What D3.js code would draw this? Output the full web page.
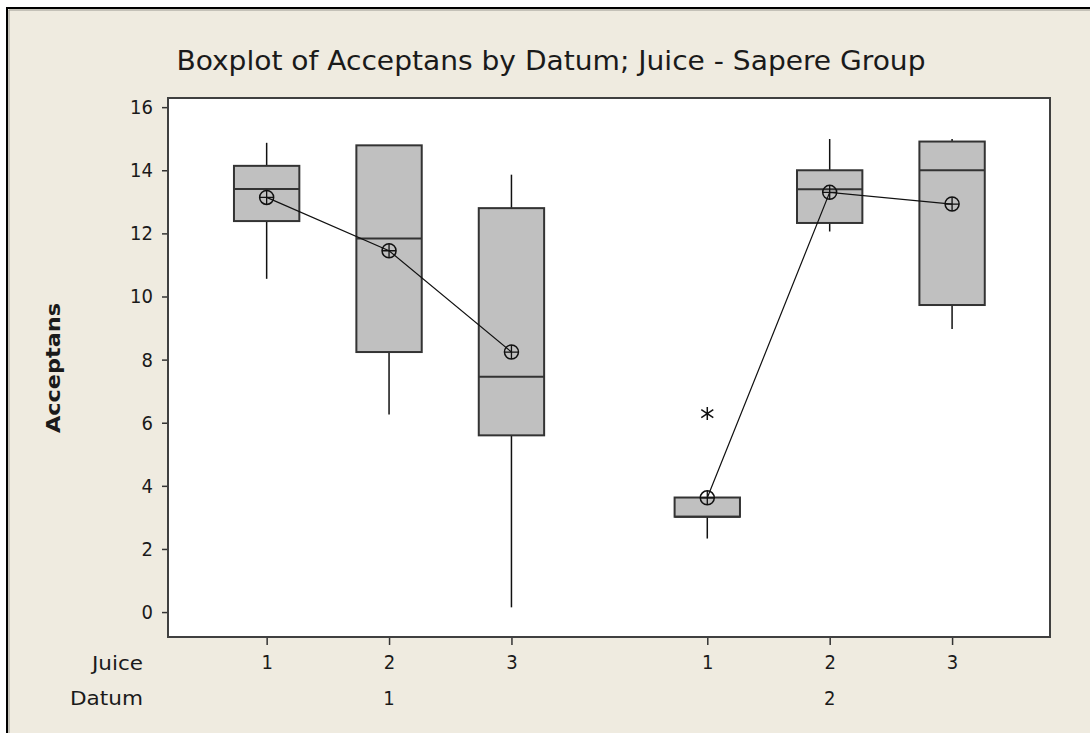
<!DOCTYPE html>
<html>
<head>
<meta charset="utf-8">
<script src="https://cdn.jsdelivr.net/npm/d3@7"></script>
<style>
  body { margin: 0; background: #fff; }
  svg { display: block; }
  text { font-family: "DejaVu Sans Condensed", "DejaVu Sans", Verdana, sans-serif; fill: #1a1a1a; }
</style>
</head>
<body>
<svg id="chart"></svg>
<script>
// Dimension constants
const WIDTH = 1090;
const HEIGHT = 733;
const PLOT = { left: 168, top: 98, right: 1050, bottom: 637 };
const FONT = '"DejaVu Sans Condensed", "DejaVu Sans", Verdana, sans-serif';

// data
const juice = ['1', '2', '3', '1', '2', '3'];
const datum = ['1', '1', '1', '2', '2', '2'];
const datumGroups = ['1', '2'];
const whiskerLow = [10.56, 6.26, 0.15, 2.33, 12.06, 8.97];
const q1 = [12.39, 8.24, 5.60, 3.02, 12.33, 9.73];
const median = [13.41, 11.84, 7.46, 3.02, 13.40, 14.00];
const q3 = [14.14, 14.79, 12.80, 3.63, 14.00, 14.91];
const whiskerHigh = [14.87, 14.79, 13.86, 3.63, 14.99, 14.99];
const means = [13.14, 11.45, 8.24, 3.62, 13.30, 12.93];
const outliers = [{ box: 3, value: 6.29 }];
const yTicks = [0, 2, 4, 6, 8, 10, 12, 14, 16];

// slot position of each box: juice index inside a datum group, groups spaced apart
const GROUP_STEP = 3.6;
const slot = juice.map((j, i) => (+j) + datumGroups.indexOf(datum[i]) * GROUP_STEP);

const svg = d3.select('#chart')
    .attr('width', WIDTH)
    .attr('height', HEIGHT);

// window frame
svg.append('rect')
    .attr('x', 7).attr('y', 8)
    .attr('width', WIDTH - 7).attr('height', HEIGHT - 8)
    .attr('fill', '#efebe0');
svg.append('path')
    .attr('d', `M7,${HEIGHT} V8 H${WIDTH}`)
    .attr('fill', 'none').attr('stroke', '#000').attr('stroke-width', 2);
svg.append('path')
    .attr('d', `M9,${HEIGHT} V10 H${WIDTH}`)
    .attr('fill', 'none').attr('stroke', '#9a9890').attr('stroke-width', 1);

// scales
const x = d3.scaleLinear()
    .domain([0.194, 7.40])
    .range([PLOT.left, PLOT.right]);

const y = d3.scaleLinear()
    .domain([-0.79, 16.29])
    .range([PLOT.bottom, PLOT.top]);

const BOX_HALF = 0.267;

// plot area
svg.append('rect')
    .attr('x', PLOT.left).attr('y', PLOT.top)
    .attr('width', PLOT.right - PLOT.left)
    .attr('height', PLOT.bottom - PLOT.top)
    .attr('fill', '#fff');

// title
svg.append('text')
    .attr('x', 551).attr('y', 70)
    .attr('text-anchor', 'middle')
    .attr('font-size', 27)
    .attr('fill', '#111')
    .attr('textLength', 749)
    .attr('lengthAdjust', 'spacingAndGlyphs')
    .text('Boxplot of Acceptans by Datum; Juice - Sapere Group');

// y axis
const yAxis = svg.append('g')
    .attr('transform', `translate(${PLOT.left},0)`)
    .call(d3.axisLeft(y).tickValues(yTicks).tickSize(6).tickPadding(9));
yAxis.select('.domain').remove();
yAxis.selectAll('line').attr('stroke', '#333').attr('stroke-width', 1.5);
yAxis.selectAll('text')
    .attr('font-size', 20)
    .attr('font-family', FONT)
    .attr('fill', '#222');

svg.append('text')
    .attr('transform', `translate(60,368) rotate(-90)`)
    .attr('text-anchor', 'middle')
    .attr('font-size', 20)
    .attr('font-weight', 'bold')
    .attr('textLength', 130)
    .attr('lengthAdjust', 'spacingAndGlyphs')
    .text('Acceptans');

// x axis: juice ticks
const xAxis = svg.append('g')
    .attr('transform', `translate(0,${PLOT.bottom})`)
    .call(d3.axisBottom(x).tickValues(slot).tickFormat((d, i) => juice[i]).tickSize(8).tickPadding(10));
xAxis.select('.domain').remove();
xAxis.selectAll('line').attr('stroke', '#333').attr('stroke-width', 1.5);
xAxis.selectAll('text')
    .attr('font-size', 20)
    .attr('font-family', FONT)
    .attr('fill', '#222');

// datum labels, centred under each group
svg.selectAll('.datum-label')
    .data(datumGroups).enter().append('text')
    .attr('class', 'datum-label')
    .attr('text-anchor', 'middle')
    .attr('font-size', 20)
    .attr('fill', '#222')
    .attr('x', g => x(d3.mean(slot.filter((s, i) => datum[i] === g))))
    .attr('y', 705)
    .text(g => g);

svg.append('text')
    .attr('x', 143).attr('y', 670)
    .attr('text-anchor', 'end')
    .attr('font-size', 20)
    .attr('fill', '#222')
    .attr('textLength', 51)
    .attr('lengthAdjust', 'spacingAndGlyphs')
    .text('Juice');
svg.append('text')
    .attr('x', 143).attr('y', 705)
    .attr('text-anchor', 'end')
    .attr('font-size', 20)
    .attr('fill', '#222')
    .attr('textLength', 73)
    .attr('lengthAdjust', 'spacingAndGlyphs')
    .text('Datum');

// boxes
const boxes = svg.selectAll('.box')
    .data(slot).enter().append('g')
    .attr('class', 'box');

boxes.append('line')
    .attr('x1', d => x(d)).attr('x2', d => x(d))
    .attr('y1', (d, i) => y(whiskerLow[i]))
    .attr('y2', (d, i) => y(q1[i]))
    .attr('stroke', '#111').attr('stroke-width', 1.5);

boxes.append('line')
    .attr('x1', d => x(d)).attr('x2', d => x(d))
    .attr('y1', (d, i) => y(q3[i]))
    .attr('y2', (d, i) => y(whiskerHigh[i]))
    .attr('stroke', '#111').attr('stroke-width', 1.5);

boxes.append('rect')
    .attr('x', d => x(d - BOX_HALF))
    .attr('width', d => x(d + BOX_HALF) - x(d - BOX_HALF))
    .attr('y', (d, i) => y(q3[i]))
    .attr('height', (d, i) => y(q1[i]) - y(q3[i]))
    .attr('fill', '#c0c0c0')
    .attr('stroke', '#333').attr('stroke-width', 2);

boxes.append('line')
    .attr('x1', d => x(d - BOX_HALF)).attr('x2', d => x(d + BOX_HALF))
    .attr('y1', (d, i) => y(median[i]))
    .attr('y2', (d, i) => y(median[i]))
    .attr('stroke', '#333').attr('stroke-width', 2);

// mean connect lines, one per datum group
const meanLine = d3.line()
    .x(i => x(slot[i]))
    .y(i => y(means[i]));

svg.selectAll('.mean-line')
    .data(datumGroups).enter().append('path')
    .attr('class', 'mean-line')
    .attr('d', g => meanLine(d3.range(slot.length).filter(i => datum[i] === g)))
    .attr('fill', 'none')
    .attr('stroke', '#111').attr('stroke-width', 1.2);

// mean symbols
const R = 7;
const meanSym = svg.selectAll('.mean')
    .data(slot).enter().append('g')
    .attr('class', 'mean')
    .attr('transform', (d, i) => `translate(${x(d)},${y(means[i])})`);
meanSym.append('circle')
    .attr('r', R)
    .attr('fill', 'none')
    .attr('stroke', '#111').attr('stroke-width', 1.5);
meanSym.append('path')
    .attr('d', `M${-R},0 H${R} M0,${-R} V${R}`)
    .attr('stroke', '#111').attr('stroke-width', 1.3);

// outliers
svg.selectAll('.outlier')
    .data(outliers).enter().append('path')
    .attr('class', 'outlier')
    .attr('transform', d => `translate(${x(slot[d.box])},${y(d.value)})`)
    .attr('d', 'M0,-6.5 V6.5 M-6,-4 L6,4 M6,-4 L-6,4')
    .attr('fill', 'none')
    .attr('stroke', '#111').attr('stroke-width', 1.5);

// plot border on top
svg.append('rect')
    .attr('x', PLOT.left).attr('y', PLOT.top)
    .attr('width', PLOT.right - PLOT.left)
    .attr('height', PLOT.bottom - PLOT.top)
    .attr('fill', 'none')
    .attr('stroke', '#404040').attr('stroke-width', 2);
</script>
</body>
</html>
